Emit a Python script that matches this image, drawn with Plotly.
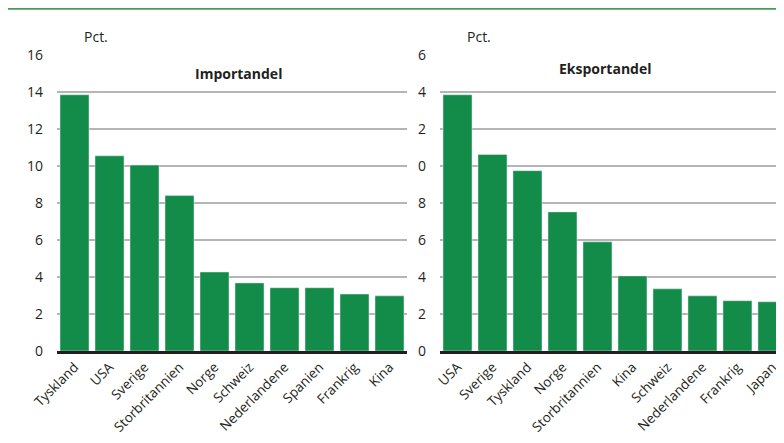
import plotly.graph_objects as go

imp_countries = ["Tyskland", "USA", "Sverige", "Storbritannien", "Norge", "Schweiz",
                 "Nederlandene", "Spanien", "Frankrig", "Kina"]
imp_values = [13.85, 10.55, 10.05, 8.4, 4.27, 3.68, 3.42, 3.42, 3.08, 2.98]

exp_countries = ["USA", "Sverige", "Tyskland", "Norge", "Storbritannien", "Kina",
                 "Schweiz", "Nederlandene", "Frankrig", "Japan"]
exp_values = [13.85, 10.62, 9.75, 7.52, 5.9, 4.06, 3.36, 2.98, 2.72, 2.66]

y_ticks = [0, 2, 4, 6, 8, 10, 12, 14, 16]
left_ticktext = ["0", "2", "4", "6", "8", "10", "12", "14", "16"]
right_ticktext = ["0", "2", "4", "6", "8", "0", "2", "4", "6"]

GREEN = "#128c48"
# page body adds an 8px offset; size figure so it fills the 784x443 window
OFF = 8
W, H = 784 - OFF, 443 - OFF
FONT = "Open Sans"


def px(x):
    return (x - OFF) / W


def py(y):
    return (H - (y - OFF)) / H


fig = go.Figure()
fig.add_trace(go.Bar(x=imp_countries, y=imp_values, marker_color=GREEN,
                     xaxis="x", yaxis="y", showlegend=False))
fig.add_trace(go.Bar(x=exp_countries, y=exp_values, marker_color=GREEN,
                     xaxis="x2", yaxis="y2", showlegend=False))

ydom = [py(351), py(55)]
common_y = dict(range=[0, 16], tickvals=y_ticks, showgrid=True,
                gridcolor="#b5b5b5", gridwidth=1.5, zeroline=False,
                tickfont=dict(family=FONT, size=14, color="#231f20"),
                ticks="", ticklabelstandoff=13, domain=ydom, automargin=False)
common_x = dict(tickangle=-45, tickfont=dict(family=FONT, size=13.5, color="#231f20"),
                showline=True, linecolor="#231f20", linewidth=3, ticks="",
                showgrid=False, automargin=False)

ann_font = dict(size=14, family=FONT, color="#231f20")
fig.update_layout(
    width=W, height=H,
    margin=dict(l=0, r=0, t=0, b=0, autoexpand=False),
    paper_bgcolor="white", plot_bgcolor="white",
    bargap=6 / 35,
    font=dict(family=FONT, color="#231f20"),
    xaxis=dict(domain=[px(57), px(407)], range=[-0.5, 9.5], anchor="y", **common_x),
    yaxis=dict(anchor="x", ticktext=left_ticktext, **common_y),
    xaxis2=dict(domain=[px(440), 1.0], range=[-0.5, 9.33], anchor="y2", **common_x),
    yaxis2=dict(anchor="x2", ticktext=right_ticktext, **common_y),
    shapes=[dict(type="line", xref="paper", yref="paper", x0=0, x1=1,
                 y0=py(8.8), y1=py(8.8),
                 line=dict(color="#4a9a5a", width=2))],
    annotations=[
        dict(text="Pct.", x=px(96), y=py(36), xref="paper", yref="paper",
             xanchor="center", yanchor="middle", showarrow=False, font=ann_font),
        dict(text="Pct.", x=px(479), y=py(36), xref="paper", yref="paper",
             xanchor="center", yanchor="middle", showarrow=False, font=ann_font),
        dict(text="<b>Importandel</b>", x=px(238), y=py(73), xref="paper",
             yref="paper", xanchor="center", yanchor="middle", showarrow=False,
             font=ann_font),
        dict(text="<b>Eksportandel</b>", x=px(605), y=py(69), xref="paper",
             yref="paper", xanchor="center", yanchor="middle", showarrow=False,
             font=ann_font),
    ],
)

fig.write_html("out.html")
